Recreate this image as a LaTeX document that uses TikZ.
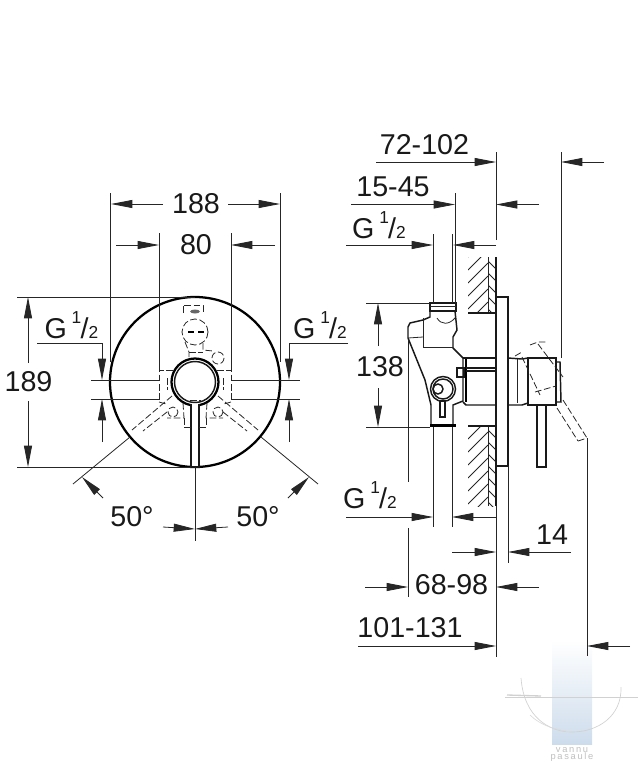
\documentclass[tikz,border=0pt]{standalone}
\usepackage{fontspec}
\setmainfont{Liberation Sans}
\usetikzlibrary{arrows.meta}
\definecolor{markblue}{RGB}{205,220,236}
\newcommand{\halfthread}{G\,\raisebox{0.95ex}{\fontsize{13}{13}\selectfont 1}\kern-0.5pt/\fontsize{13}{13}\selectfont 2}
\tikzset{
  thinline/.style={line width=0.6pt,draw=black!85},
  outline/.style={line width=1.1pt,draw=black!90},
  heavyline/.style={line width=1.7pt,draw=black},
  hiddenline/.style={line width=0.6pt,draw=black!85,dash pattern=on 5pt off 2pt},
  dimarrow/.style={thinline,-{Triangle[length=16pt,width=6pt]}},
  dimlabel/.style={font=\fontsize{21.5}{24}\selectfont,inner sep=0pt,text=black!90},
  threadlabel/.style={dimlabel,anchor=base},
  markname/.style={font=\fontsize{7}{8}\addfontfeature{LetterSpace=18}\selectfont,inner sep=0pt,text=black!25}
}
\begin{document}
\begin{tikzpicture}[x=0.75pt,y=-0.75pt]
  \useasboundingbox (0,0) rectangle (640,768);
  % watermark
  \shade[top color=white,bottom color=markblue] (552,640) rectangle (592,744);
  \draw[black!18,line width=0.5pt] (505,697.5) -- (638,697.5);
  \draw[black!18,line width=0.5pt] (521,678) .. controls (524,718) and (550,732) .. (572,732) .. controls (598,732) and (622,716) .. (621,687);
  \draw[black!14,line width=0.5pt] (530,715) .. controls (540,725) and (555,730) .. (572,732);
  \draw[black!18,line width=1pt] (507,695) -- (541,696);
  \node[markname] (markone) at (572,750) {vannu};
  \node[markname] (marktwo) at (572,757.5) {pasaule};
  % front view, outer shape
  \draw[heavyline] (195,382) circle (85);
  \draw[heavyline] (195,382) circle (23.5);
  \draw[outline] (195,382) circle (20.5);
  \draw[outline,fill=white] (191,404) -- (191,467) -- (199,467) -- (199,404);
  % front view, hidden parts
  \draw[hiddenline] (183,313) -- (183,305) -- (203,305) -- (203,313);
  \fill[black!60] (195,311.5) ellipse (5 and 2);
  \draw[hiddenline] (195,332) circle (13);
  \foreach \x in {188,198} {
    \draw[line width=1pt] (\x,332) -- (\x+6,332);
  }
  \draw[hiddenline] (185,342) -- (189,352) -- (189,358);
  \draw[hiddenline] (203,343) -- (203,350) -- (213,351);
  \draw[hiddenline] (189,352) -- (203,352);
  \draw[hiddenline] (218,358) circle (6);
  \foreach \x in {173,218} {
    \draw[hiddenline] (\x,412) circle (5);
  }
  \foreach \x/\y in {159/173,231/217} {
    \draw[hiddenline] (\y,370) -- (\x,370) -- (\x,402);
  }
  \draw[hiddenline] (159,402) -- (166,404);
  \draw[hiddenline] (231,402) -- (224,404);
  \draw[hiddenline] (167,378) -- (167,390);
  \draw[hiddenline] (223,378) -- (223,390);
  \draw[hiddenline] (183,403) -- (184,418) -- (167,418);
  \draw[hiddenline] (184,418) -- (184,427) -- (191,427);
  \draw[hiddenline] (207,403) -- (206,418) -- (223,418);
  \draw[hiddenline] (206,418) -- (206,427) -- (199,427);
  \draw[hiddenline] (190,400) -- (201,400);
  \draw[hiddenline] (172,396) -- (132,430);
  \draw[hiddenline] (167,412) -- (143,431);
  \draw[hiddenline] (218,396) -- (258,430);
  \draw[hiddenline] (223,412) -- (247,431);
  % front view, 188 and 80
  \draw[thinline] (110.5,193) -- (110.5,362);
  \draw[thinline] (280,193) -- (280,362);
  \draw[thinline] (159.5,233) -- (159.5,370);
  \draw[thinline] (231,233) -- (231,370);
  \node[dimlabel] (widthouter) at (196,204) {188};
  \draw[dimarrow] (163,204) -- (111,204);
  \draw[dimarrow] (228,204) -- (280,204);
  \node[dimlabel] (widthinner) at (196,245) {80};
  \draw[dimarrow] (116,245) -- (159,245);
  \draw[dimarrow] (275,245) -- (231,245);
  % front view, 189
  \draw[thinline] (17,297) -- (195,297);
  \draw[thinline] (17,467) -- (191,467);
  \node[dimlabel] (heightouter) at (28.5,382) {189};
  \draw[dimarrow] (28,363) -- (28,297);
  \draw[dimarrow] (28,401) -- (28,467);
  % front view, threads
  \node[threadlabel] (threadleft) at (71.5,338) {\halfthread};
  \node[threadlabel] (threadright) at (320,338) {\halfthread};
  \draw[thinline] (91,380) -- (159,380);
  \draw[thinline] (91,399) -- (159,399);
  \draw[thinline] (231,380) -- (300,380);
  \draw[thinline] (231,399) -- (300,399);
  \draw[dimarrow] (37,343) -- (102,343) -- (102,380);
  \draw[dimarrow] (348,343) -- (289,343) -- (289,380);
  \draw[dimarrow] (102,442) -- (102,399);
  \draw[dimarrow] (289,442) -- (289,399);
  % front view, 50 degrees
  \draw[thinline] (195,467) -- (195,541);
  \draw[thinline] (130,437) -- (73,484);
  \draw[thinline] (261,437) -- (318,484);
  \node[dimlabel] (angleleft) at (132,517) {50°};
  \node[dimlabel] (angleright) at (258,517) {50°};
  \draw[dimarrow] (103,498) -- (82,477);
  \draw[dimarrow] (288,498) -- (309,477);
  \draw[dimarrow] (163,527) -- (195,529);
  \draw[dimarrow] (228,527) -- (195,529);
  % side view, wall
  \foreach \ytop/\ybot in {257/313,426/506} {
    \begin{scope}
      \clip (468,\ytop) rectangle (488,\ybot);
      \foreach \y in {0,13,...,104} {
        \draw[thinline] (468,\ytop+\y) -- (488,\ytop+\y-20);
      }
    \end{scope}
    \begin{scope}
      \clip (488,\ytop) rectangle (496,\ybot);
      \foreach \y in {-8,4,...,88} {
        \draw[thinline] (488,\ytop+\y) -- (496,\ytop+\y+8);
      }
    \end{scope}
    \draw[thinline] (488,\ytop) -- (488,\ybot);
  }
  \draw[outline] (468,313) -- (496,313);
  \draw[outline] (468,426) -- (496,426);
  % side view, plate and wall face
  \draw[thinline] (496,152) -- (496,240);
  \draw[outline] (496,257) -- (496,506);
  \draw[thinline] (496,506) -- (496,657);
  \draw[outline] (496,297) -- (508,297) -- (508,466) -- (496,466);
  % side view, valve body
  \draw[outline] (430,303) rectangle (456,311);
  \draw[thinline] (430,306) -- (456,306);
  \draw[outline] (423,320) -- (410,323) -- (408,327) -- (408,338) -- (425,380) -- (431,405) -- (431,424);
  \draw[outline] (423,320) -- (430,317) -- (430,311);
  \draw[outline] (455,311) -- (457,330) -- (453,337) -- (453,348) -- (463,358) -- (463,401) -- (453,405) -- (453,424);
  \draw[thinline] (423,318) -- (423,347) -- (453,347);
  \draw[thinline] (408,338) -- (423,337);
  \draw[thinline] (437,318) .. controls (441,325) and (449,325) .. (455,318);
  \fill[black] (430,424) rectangle (456,427);
  \draw[heavyline] (466,358) -- (466,402);
  \draw[outline] (463,358) -- (496,358);
  \draw[outline] (466,368) -- (496,368);
  \draw[outline] (466,371) -- (496,371);
  \draw[outline] (463,402) -- (466,405) -- (496,405);
  \draw[outline] (457,368) rectangle (464,377);
  \draw[outline] (443,389) circle (12.5);
  \draw[outline] (443,389) circle (10);
  \draw[outline] (438,389) circle (5);
  \draw[outline,fill=white] (440,401) rectangle (445,417);
  % side view, handle
  \draw[outline] (508,358) -- (522,359) -- (528,358);
  \draw[outline] (508,405) -- (522,405) -- (528,403);
  \draw[thinline] (517,359) -- (517,403);
  \draw[outline] (528,358) rectangle (556,405);
  \draw[outline] (556,362) -- (560,362) -- (561,402) -- (556,402);
  \draw[outline] (537,405) rectangle (546,467);
  % side view, swung handle
  \draw[hiddenline] (515,356) -- (522,352);
  \draw[hiddenline] (522,357) -- (540,395);
  \draw[hiddenline] (530,345) -- (538,342) -- (547,342);
  \draw[hiddenline] (538,344) -- (563,377);
  \draw[hiddenline] (535,392) -- (556,386);
  \draw[hiddenline] (563,400) -- (587,438);
  \draw[hiddenline] (557,408) -- (578,441);
  \draw[hiddenline] (578,441) -- (587,438);
  % side view, upper dimensions
  \draw[thinline] (561,152) -- (561,358);
  \draw[thinline] (587,438) -- (587,656);
  \node[dimlabel] (depthtotal) at (424.5,145) {72-102};
  \draw[dimarrow] (376,162) -- (496,162);
  \draw[dimarrow] (604,162) -- (561,162);
  \draw[thinline] (455.5,193) -- (455.5,303);
  \node[dimlabel] (depthwall) at (393,186.5) {15-45};
  \draw[dimarrow] (351,204.5) -- (455,204.5);
  \draw[dimarrow] (539,204.5) -- (496,204.5);
  \draw[thinline] (433,234) -- (433,303);
  \draw[thinline] (452,234) -- (452,303);
  \node[threadlabel] (threadtop) at (379,238) {\halfthread};
  \draw[dimarrow] (346,245) -- (433,245);
  \draw[dimarrow] (496,245) -- (453,245);
  % side view, 138
  \draw[thinline] (366,303) -- (430,303);
  \draw[thinline] (366,427) -- (430,427);
  \node[dimlabel] (spacing) at (380,367) {138};
  \draw[dimarrow] (378,346) -- (378,303);
  \draw[dimarrow] (378,388) -- (378,427);
  % side view, lower dimensions
  \draw[thinline] (408,340) -- (408,482);
  \draw[thinline] (408,528) -- (408,597);
  \draw[thinline] (433.5,427) -- (433.5,527);
  \draw[thinline] (452,427) -- (452,527);
  \draw[thinline] (508,466) -- (508,563);
  \node[threadlabel] (threadlow) at (370,508) {\halfthread};
  \draw[dimarrow] (346,517) -- (433,517);
  \draw[dimarrow] (496,517) -- (452,517);
  \node[dimlabel] (plate) at (552,535) {14};
  \draw[dimarrow] (452,552) -- (496,552);
  \draw[dimarrow] (571,552) -- (508,552);
  \node[dimlabel] (depthbody) at (451.5,585) {68-98};
  \draw[dimarrow] (365,587) -- (408,587);
  \draw[dimarrow] (539,587) -- (496,587);
  \node[dimlabel] (depthlever) at (410,628) {101-131};
  \draw[dimarrow] (358,646) -- (496,646);
  \draw[dimarrow] (630,646) -- (587,646);
\end{tikzpicture}
\end{document}
